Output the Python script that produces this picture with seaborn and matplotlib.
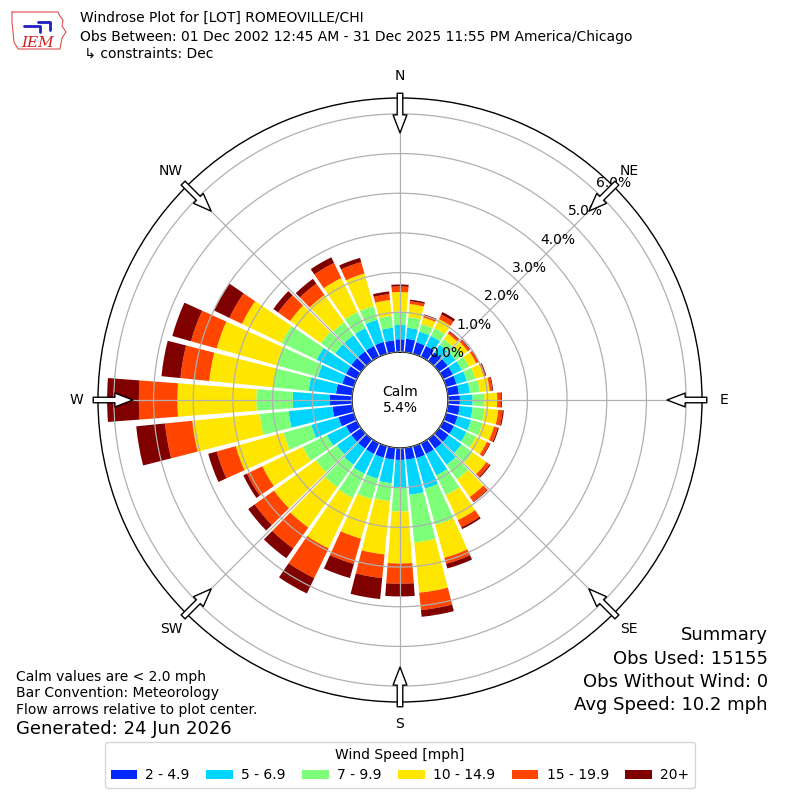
import numpy as np
import pandas as pd
import seaborn as sns
import matplotlib.pyplot as plt
from matplotlib.patches import Patch

# Datos del windrose: porcentaje por dirección (de dónde viene el viento) y rango de velocidad
directions = list(range(0, 360, 10))
speed_bins = ['2 - 4.9', '5 - 6.9', '7 - 9.9', '10 - 14.9', '15 - 19.9', '20+']
bin_colors = ['#0028ff', '#00d4ff', '#7dff7a', '#ffe600', '#ff4500', '#800000']

pct_2_5 = [0.32, 0.34, 0.30, 0.30, 0.27, 0.27, 0.27, 0.27, 0.28, 0.30, 0.30, 0.30,
           0.30, 0.30, 0.30, 0.30, 0.31, 0.30, 0.30, 0.30, 0.30, 0.30, 0.30, 0.30,
           0.30, 0.40, 0.50, 0.56, 0.41, 0.30, 0.30, 0.30, 0.30, 0.30, 0.31, 0.30]
pct_5_7 = [0.36, 0.28, 0.28, 0.28, 0.23, 0.24, 0.25, 0.27, 0.28, 0.32, 0.33, 0.35,
           0.35, 0.40, 0.50, 0.60, 0.80, 0.89, 0.70, 0.60, 0.55, 0.55, 0.50, 0.45,
           0.53, 0.71, 1.11, 0.93, 0.69, 0.64, 0.82, 0.50, 0.50, 0.50, 0.58, 0.32]
pct_7_10 = [0.34, 0.27, 0.20, 0.22, 0.18, 0.20, 0.20, 0.22, 0.25, 0.30, 0.30, 0.30,
            0.27, 0.35, 0.45, 0.55, 0.95, 1.21, 0.60, 0.45, 0.54, 0.68, 0.70, 0.65,
            0.68, 0.73, 0.73, 0.92, 0.90, 1.08, 0.98, 0.45, 0.40, 0.45, 0.36, 0.30]
pct_10_15 = [0.49, 0.33, 0.17, 0.25, 0.17, 0.18, 0.20, 0.22, 0.25, 0.32, 0.35, 0.30,
             0.30, 0.42, 0.55, 0.70, 0.86, 1.27, 1.31, 1.35, 1.03, 1.41, 1.25, 1.30,
             1.13, 1.25, 1.71, 1.99, 1.62, 1.57, 1.11, 0.95, 0.85, 0.95, 0.85, 0.40]
pct_15_20 = [0.14, 0.07, 0.05, 0.13, 0.06, 0.06, 0.06, 0.05, 0.07, 0.10, 0.11, 0.10,
             0.08, 0.10, 0.14, 0.20, 0.16, 0.44, 0.51, 0.60, 0.66, 0.83, 0.65, 0.60,
             0.43, 0.50, 0.69, 0.97, 0.73, 0.67, 0.35, 0.37, 0.35, 0.42, 0.30, 0.15]
pct_20 = [0.05, 0.04, 0.03, 0.07, 0.02, 0.02, 0.02, 0.02, 0.02, 0.02, 0.03, 0.03,
          0.02, 0.03, 0.02, 0.05, 0.12, 0.17, 0.32, 0.53, 0.37, 0.43, 0.30, 0.20,
          0.10, 0.22, 0.73, 0.80, 0.48, 0.49, 0.43, 0.15, 0.15, 0.16, 0.11, 0.07]

radial_ticks = [0, 1, 2, 3, 4, 5, 6]
compass = ['N', 'NE', 'E', 'SE', 'S', 'SW', 'W', 'NW']
calm_pct = 5.4

df = pd.DataFrame({'dir': directions, speed_bins[0]: pct_2_5, speed_bins[1]: pct_5_7,
                   speed_bins[2]: pct_7_10, speed_bins[3]: pct_10_15,
                   speed_bins[4]: pct_15_20, speed_bins[5]: pct_20})

sns.set_theme(style='white')
plt.rcParams['font.family'] = ['DejaVu Sans']
plt.rcParams['text.color'] = 'black'

fig = plt.figure(figsize=(8, 8), dpi=100)
ax = fig.add_axes([0.1225, 0.1225, 0.755, 0.755], projection='polar')
ax.set_theta_zero_location('N')
ax.set_theta_direction(-1)
ax.set_rorigin(-1.21)
ax.set_rlim(0, 6.4)

# Barras apiladas
theta = np.radians(df['dir'])
bottom = np.zeros(len(df))
for b, c in zip(speed_bins, bin_colors):
    ax.bar(theta, df[b], width=np.radians(8.6), bottom=bottom, color=c,
           edgecolor='none', zorder=1)
    bottom += df[b].values

# Grilla
ax.set_axisbelow(False)
ax.set_yticks(radial_ticks)
ax.set_yticklabels([])
ax.set_xticks(np.radians(np.arange(0, 360, 45)))
ax.set_xticklabels([])
ax.grid(True, color='#b0b0b0', linewidth=0.9)
ax.spines['polar'].set_color('black')
ax.spines['polar'].set_linewidth(1.0)
ax.spines['inner'].set_color('black')
ax.spines['inner'].set_linewidth(1.0)

for t in radial_ticks:
    ax.text(np.radians(44.5), t + 0.45, f'{t:.1f}%', ha='center', va='center',
            fontsize=10, zorder=5)

for i, lab in enumerate(compass):
    th = np.radians(i * 45)
    ax.text(th, 6.95, lab, ha='center', va='center', fontsize=10, clip_on=False)
    ax.annotate('', xy=(th, 5.52), xytext=(th, 6.52), annotation_clip=False,
                arrowprops=dict(arrowstyle='simple,head_length=1.3,head_width=1.0,tail_width=0.4',
                                fc='white', ec='black', lw=1, shrinkA=0, shrinkB=0,
                                mutation_scale=10), zorder=6)

fig.text(0.5, 0.5, f'Calm\n{calm_pct:.1f}%', ha='center', va='center', fontsize=10)

# Encabezado
fig.text(80 / 800, 1 - 18 / 800, 'Windrose Plot for [LOT] ROMEOVILLE/CHI', va='center', fontsize=10)
fig.text(80 / 800, 1 - 37 / 800,
         'Obs Between: 01 Dec 2002 12:45 AM - 31 Dec 2025 11:55 PM America/Chicago',
         va='center', fontsize=10)
fig.text(80 / 800, 1 - 54 / 800, ' \u21b3 constraints: Dec', va='center', fontsize=10)

# Logo simple
lax = fig.add_axes([10 / 800, 1 - 52 / 800, 58 / 800, 42 / 800])
lax.set_xlim(0, 58)
lax.set_ylim(0, 42)
lax.axis('off')
lax.plot([2, 48, 50, 53, 52, 56, 52, 50, 8, 4, 2, 2], [40, 40, 36, 32, 26, 20, 14, 3, 3, 10, 30, 40],
         color='#e05050', lw=0.8)
lax.plot([14, 30, 30], [26, 26, 20], color='#2020c0', lw=2)
lax.plot([28, 40, 40], [30, 30, 22], color='#2020c0', lw=2)
lax.text(28, 9, 'IEM', color='#d02020', fontsize=11, style='italic', family='serif',
         ha='center', va='center')

# Notas
fig.text(16 / 800, 1 - 677 / 800, 'Calm values are < 2.0 mph', va='center', fontsize=10)
fig.text(16 / 800, 1 - 693 / 800, 'Bar Convention: Meteorology', va='center', fontsize=10)
fig.text(16 / 800, 1 - 710 / 800, 'Flow arrows relative to plot center.', va='center', fontsize=10)
fig.text(16 / 800, 1 - 729 / 800, 'Generated: 24 Jun 2026', va='center', fontsize=13)

summary = ['Summary', 'Obs Used: 15155', 'Obs Without Wind: 0', 'Avg Speed: 10.2 mph']
for s, y in zip(summary, [635, 659, 682, 705]):
    fig.text(768 / 800, 1 - y / 800, s, ha='right', va='center', fontsize=13)

handles = [Patch(facecolor=c, edgecolor='none') for c in bin_colors]
fig.legend(handles, speed_bins, loc='center', bbox_to_anchor=(0.5, 1 - 765 / 800), ncol=6,
           title='Wind Speed [mph]', fontsize=10, title_fontsize=10, frameon=True,
           handlelength=1.9, handleheight=0.6, handletextpad=0.6, columnspacing=1.2,
           edgecolor='#cccccc')

fig.savefig('out.png', dpi=100)
